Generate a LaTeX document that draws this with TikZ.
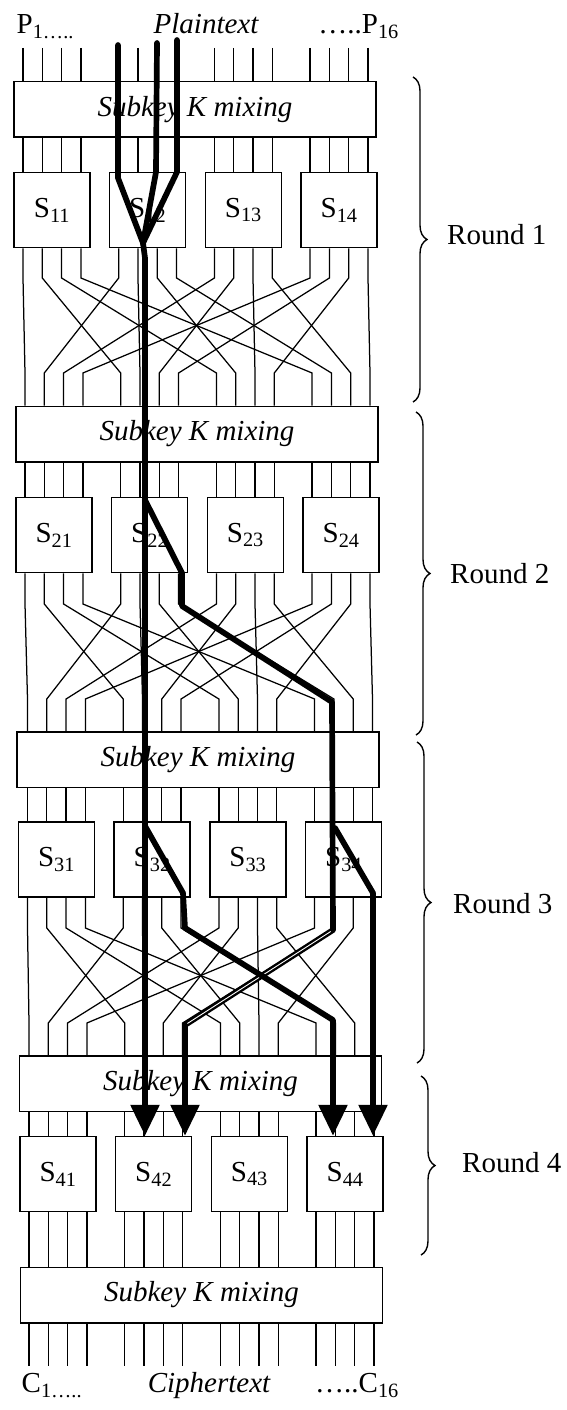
\documentclass[tikz,border=0pt]{standalone}
\usepackage{fontspec}
\setmainfont{Liberation Serif}
\usetikzlibrary{arrows.meta,decorations.pathreplacing}

\newcommand{\bigtext}{\fontsize{29}{32}\selectfont}

% x position of wire #1 (0..15) in a row shifted by #2
\pgfmathdeclarefunction{wirex}{2}{%
  \pgfmathparse{23+#2+95.7*floor(#1/4)+19.3*mod(#1,4)}%
}

\tikzset{
  keybox/.style={draw, line width=1.5pt, fill=white, inner sep=0pt,
    minimum width=362pt, minimum height=55.5pt, font=\bigtext\itshape},
  sbox/.style={draw, line width=1.5pt, fill=white, inner sep=0pt,
    minimum width=76pt, minimum height=75pt},
  wire/.style={line width=1.25pt},
  trail/.style={line width=5.7pt, line join=round, line cap=round},
  trailarrow/.style={trail, -{Triangle[length=31pt,width=28pt]}},
  rbrace/.style={decorate, decoration={brace, amplitude=14pt}, line width=1.4pt},
}

\begin{document}
\begin{tikzpicture}[x=1pt, y=-1pt, font=\bigtext]
\useasboundingbox (0,0) rectangle (566,1410);

% subkey mixing layers
\node[keybox] (k1) at (195,109.5)    {Subkey K mixing};
\node[keybox] (k2) at (197,434)      {Subkey K mixing};
\node[keybox] (k3) at (198,759.5)    {Subkey K mixing};
\node[keybox] (k4) at (200.5,1083.5) {Subkey K mixing};
\node[keybox] (k5) at (201.5,1295)   {Subkey K mixing};

% S-boxes, one row per round
\foreach \r/\dx/\yc in {1/0/210, 2/2/535, 3/4.5/859.5, 4/6/1174}
  \foreach \j in {1,...,4} {
    \pgfmathsetmacro\xc{wirex(4*(\j-1),\dx)+29}
    \node[sbox] (s\r\j) at (\xc,\yc) {S\textsubscript{\r\j}};
  }

% plaintext bits
\foreach \k in {0,...,15} {
  \pgfmathsetmacro\xa{wirex(\k,0)}
  \draw[wire] (\xa,48) -- (\xa,0 |- k1.north);
}
% mixing layer -> S-boxes
\foreach \r/\dx in {1/0, 2/2, 3/4.5, 4/6}
  \foreach \k in {0,...,15} {
    \pgfmathsetmacro\xa{wirex(\k,\dx)}
    \pgfmathtruncatemacro\sb{int(\k/4)+1}
    \draw[wire] (\xa,0 |- k\r.south) -- (\xa,0 |- s\r\sb.north);
  }
% bit permutation between rounds
\foreach \r/\da/\db/\ya/\yb in {1/0/2/278/373, 2/2/4.5/604/699, 3/4.5/6/928/1023} {
  \pgfmathtruncatemacro\nr{\r+1}
  \foreach \k in {0,...,15} {
    \pgfmathtruncatemacro\sb{int(\k/4)+1}
    \pgfmathtruncatemacro\tg{4*mod(\k,4)+int(\k/4)}
    \pgfmathsetmacro\xa{wirex(\k,\da)}
    \pgfmathsetmacro\xb{wirex(\tg,\db)}
    \draw[wire] (\xa,0 |- s\r\sb.south) -- (\xa,\ya) -- (\xb,\yb) -- (\xb,0 |- k\nr.north);
  }
}
% last round and ciphertext bits
\foreach \k in {0,...,15} {
  \pgfmathsetmacro\xa{wirex(\k,6)}
  \pgfmathtruncatemacro\sb{int(\k/4)+1}
  \draw[wire] (\xa,0 |- s4\sb.south) -- (\xa,0 |- k5.north);
  \draw[wire] (\xa,0 |- k5.south) -- (\xa,1366);
}

% labels
\node[anchor=base west, inner sep=0pt] (pfirst) at (16.5,33.5) {P\textsubscript{1…..}};
\node[anchor=base, inner sep=0pt, font=\bigtext\itshape] (ptext) at (206,33.5) {Plaintext};
\node[anchor=base east, inner sep=0pt] (plast) at (399,33.5) {…..P\textsubscript{16}};
\node[anchor=base west, inner sep=0pt] (cfirst) at (21.5,1392.5) {C\textsubscript{1…..}};
\node[anchor=base, inner sep=0pt, font=\bigtext\itshape] (ctext) at (209,1392.5) {Ciphertext};
\node[anchor=base east, inner sep=0pt] (clast) at (399,1392.5) {…..C\textsubscript{16}};

% rounds
\draw[rbrace] (413,77) -- (413,402);
\draw[rbrace] (416,412) -- (416,735);
\draw[rbrace] (417,742) -- (417,1063);
\draw[rbrace] (421,1076) -- (421,1255);
\node[anchor=base west, inner sep=0pt] (round1) at (447,244) {Round 1};
\node[anchor=base west, inner sep=0pt] (round2) at (450,583) {Round 2};
\node[anchor=base west, inner sep=0pt] (round3) at (453,913) {Round 3};
\node[anchor=base west, inner sep=0pt] (round4) at (462,1172) {Round 4};

% differential trail
\draw[trail] (118,45) -- (118,178) -- (143,243);
\draw[trail] (157,43) -- (156,172) -- (143,243);
\draw[trail] (177,40) -- (177,172) -- (143,243);
\draw[trailarrow] (143,243) -- (145,258) -- (145,0 |- s42.north);
\draw[line width=2.4pt, double=white, double distance=0.9pt] (333,930) -- (185,1025);
\draw[trail] (145,500) -- (182,573) -- (182,606) -- (332,702) -- (333,930);
\draw[trailarrow] (185,1025) -- (185,0 |- s42.north);
\draw[trailarrow] (145,826) -- (183,893) -- (185,928) -- (333,1020) -- (333,0 |- s44.north);
\draw[trailarrow] (335,828) -- (373,893) -- (373,0 |- s44.north);
\end{tikzpicture}
\end{document}
